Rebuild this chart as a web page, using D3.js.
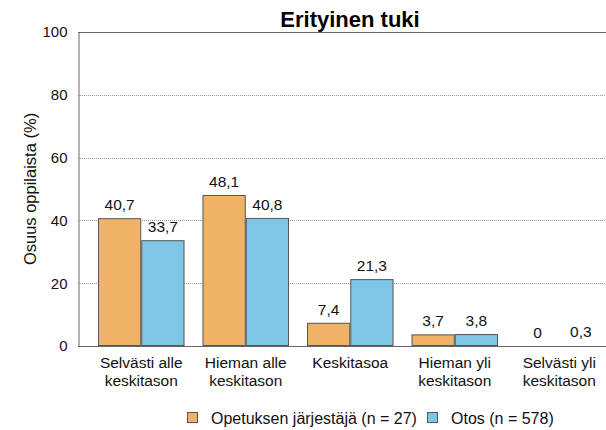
<!DOCTYPE html>
<html>
<head>
<meta charset="utf-8">
<script src="https://cdn.jsdelivr.net/npm/d3@7"></script>
<style>
  body { margin: 0; background: #fff; }
  svg { font-family: "Liberation Sans", Arial, sans-serif; }
</style>
</head>
<body>
<div id="chart"></div>
<script>
// chart data
var categories = [
  ["Selvästi alle", "keskitason"],
  ["Hieman alle", "keskitason"],
  ["Keskitasoa"],
  ["Hieman yli", "keskitason"],
  ["Selvästi yli", "keskitason"]
];
var seriesNames = ["Opetuksen järjestäjä (n = 27)", "Otos (n = 578)"];
var jarjestaja = [40.7, 48.1, 7.4, 3.7, 0];
var otos = [33.7, 40.8, 21.3, 3.8, 0.3];
var yTicks = [0, 20, 40, 60, 80, 100];

var colors = ["#F0B266", "#7EC6E6"];
var width = 606, height = 430;

var svg = d3.select("#chart").append("svg")
  .attr("width", width)
  .attr("height", height);

// plot area (note: "top" is reserved on window, so prefix names)
var plotLeft = 78, plotTop = 32, plotBottom = 346, plotRight = 606;

var y = d3.scaleLinear().domain([0, 100]).range([plotBottom, plotTop]);

var keys = categories.map(function (c, i) { return "c" + i; });
var x0 = d3.scaleBand()
  .domain(keys)
  .range([89, 611.5])
  .paddingInner(0.172)
  .paddingOuter(0.086);
var x1 = d3.scaleBand()
  .domain([0, 1])
  .range([0, x0.bandwidth()]);

// grid lines
svg.append("g").selectAll("line")
  .data(yTicks.filter(function (t) { return t > 0 && t < 100; }))
  .enter().append("line")
  .attr("x1", plotLeft).attr("x2", plotRight)
  .attr("y1", function (d) { return Math.round(y(d)) + 0.5; })
  .attr("y2", function (d) { return Math.round(y(d)) + 0.5; })
  .attr("stroke", "#9a9a9a")
  .attr("stroke-dasharray", "1,1");

// top border
svg.append("line")
  .attr("x1", plotLeft).attr("x2", plotRight)
  .attr("y1", y(100) + 0.5).attr("y2", y(100) + 0.5)
  .attr("stroke", "#666");

// y axis
var yAxis = d3.axisLeft(y).tickValues(yTicks).tickSize(0).tickPadding(11);
var gY = svg.append("g")
  .attr("transform", "translate(" + (plotLeft + 0.5) + ",0)")
  .call(yAxis);
gY.select(".domain").attr("stroke", "#666");
gY.selectAll("text")
  .attr("font-size", 15)
  .attr("fill", "#111")
  .attr("font-family", "Liberation Sans, Arial, sans-serif");

// bars
var data = keys.map(function (k, i) {
  return { key: k, values: [jarjestaja[i], otos[i]] };
});

var groups = svg.append("g").selectAll("g")
  .data(data)
  .enter().append("g")
  .attr("transform", function (d) { return "translate(" + x0(d.key) + ",0)"; });

groups.selectAll("rect")
  .data(function (d) { return d.values.map(function (v, j) { return { v: v, j: j }; }); })
  .enter().append("rect")
  .filter(function (d) { return d.v > 0; })
  .attr("x", function (d) { return x1(d.j) + 0.5; })
  .attr("y", function (d) { return y(d.v) + 0.5; })
  .attr("width", x1.bandwidth() - 1)
  .attr("height", function (d) { return Math.max(0, y(0) - y(d.v) - 1); })
  .attr("fill", function (d) { return colors[d.j]; })
  .attr("stroke", "#555")
  .attr("stroke-width", 1);

// value labels
groups.selectAll("text")
  .data(function (d) { return d.values.map(function (v, j) { return { v: v, j: j }; }); })
  .enter().append("text")
  .attr("x", function (d) { return x1(d.j) + x1.bandwidth() / 2; })
  .attr("y", function (d) { return y(d.v) - 8; })
  .attr("text-anchor", "middle")
  .attr("font-size", 15.5)
  .attr("fill", "#111")
  .text(function (d) { return String(d.v).replace(".", ","); });

// x axis line
svg.append("line")
  .attr("x1", plotLeft).attr("x2", plotRight)
  .attr("y1", plotBottom + 0.5).attr("y2", plotBottom + 0.5)
  .attr("stroke", "#666");

// category labels
var xLabels = svg.append("g").selectAll("text")
  .data(keys)
  .enter().append("text")
  .attr("text-anchor", "middle")
  .attr("font-size", 15.5)
  .attr("fill", "#111")
  .attr("x", function (k) { return x0(k) + x0.bandwidth() / 2; })
  .attr("y", 368);
xLabels.each(function (k, i) {
  var t = d3.select(this);
  categories[i].forEach(function (line, li) {
    t.append("tspan")
      .attr("x", x0(k) + x0.bandwidth() / 2)
      .attr("dy", li === 0 ? 0 : 18)
      .text(line);
  });
});

// y axis title
svg.append("text")
  .attr("transform", "translate(36," + 189 + ") rotate(-90)")
  .attr("text-anchor", "middle")
  .attr("font-size", 16.5)
  .attr("fill", "#111")
  .text("Osuus oppilaista (%)");

// title
svg.append("text")
  .attr("x", 350)
  .attr("y", 27)
  .attr("text-anchor", "middle")
  .attr("font-size", 22)
  .attr("font-weight", "bold")
  .attr("fill", "#000")
  .text("Erityinen tuki");

// legend
var legendX = [187, 427];
var legend = svg.append("g").selectAll("g")
  .data(seriesNames)
  .enter().append("g")
  .attr("transform", function (d, i) { return "translate(" + legendX[i] + ",412)"; });
legend.append("rect")
  .attr("x", 0.5).attr("y", 0.5)
  .attr("width", 10).attr("height", 10)
  .attr("fill", function (d, i) { return colors[i]; })
  .attr("stroke", "#555");
legend.append("text")
  .attr("x", 24)
  .attr("y", 11.5)
  .attr("font-size", 16)
  .attr("fill", "#111")
  .text(function (d) { return d; });
</script>
</body>
</html>
